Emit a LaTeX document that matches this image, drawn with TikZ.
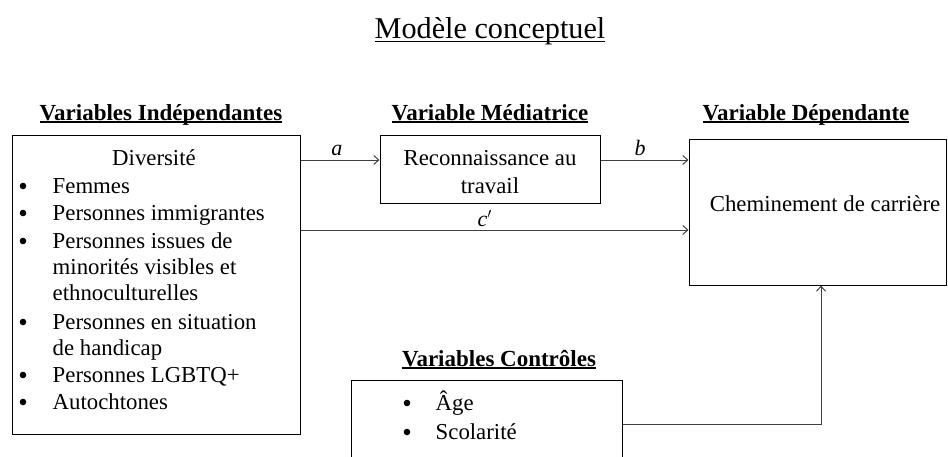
\documentclass[tikz,border=0pt]{standalone}
\usepackage{fontspec}
\setmainfont{Liberation Serif}
\usetikzlibrary{arrows.meta}
\newcommand\myul[3][2.6pt]{\setbox0\hbox{#3}\rlap{\rule[-#1]{\wd0}{#2}}\box0}
\begin{document}
\begin{tikzpicture}[x=1pt,y=-1pt,
  box/.style={draw=black,line width=1pt,inner sep=0pt},
  conn/.style={draw=black!75,line width=1pt},
  arr/.style={conn,-{Straight Barb[length=5pt,width=9pt]}},
  txt/.style={inner sep=0pt,font=\fontsize{22.8}{26}\selectfont},
  dot/.style={circle,fill=black,inner sep=0pt,minimum size=6.6pt},
  hdr/.style={inner sep=0pt,font=\fontsize{23}{26}\selectfont\bfseries},
  lbl/.style={inner sep=0pt,font=\fontsize{22}{26}\selectfont\itshape}]
\useasboundingbox (0,0) rectangle (948,456);
% title
\node[inner sep=0pt,font=\fontsize{30.2}{32}\selectfont,anchor=base] (title) at (490,38.5) {\myul[3.5pt]{1.5pt}{Modèle conceptuel}};
% headers
\node[hdr,anchor=base] (hL) at (161,120) {\myul[2.8pt]{1.4pt}{Variables Indépendantes}};
\node[hdr,anchor=base] (hM) at (490,120) {\myul[2.8pt]{1.4pt}{Variable Médiatrice}};
\node[hdr,anchor=base] (hD) at (806,120) {\myul[2.8pt]{1.4pt}{Variable Dépendante}};
\node[hdr,anchor=base] (hC) at (499,366) {\myul[2.8pt]{1.4pt}{Variables Contrôles}};
% boxes
\node[box,minimum width=288pt,minimum height=299pt] (L) at (156,284.5) {};
\node[box,minimum width=220pt,minimum height=68pt] (M) at (490,169) {};
\node[box,minimum width=257pt,minimum height=146pt] (D) at (817.5,212) {};
\node[box,minimum width=271pt,minimum height=90pt] (C) at (486.5,425) {};
% left box text
\node[txt,anchor=base] (div) at (154,165) {Diversité};
\foreach \n/\yy/\t in {b1/193/Femmes,b2/220/Personnes immigrantes,b3/248/Personnes issues de,b5/329/Personnes en situation,b7/382/Personnes LGBTQ+,b8/409/Autochtones}{
  \node[dot] (d\n) at (23,\yy-7) {};
  \node[txt,anchor=base west] (t\n) at (52.5,\yy) {\t};
}
\node[txt,anchor=base west] (tb3b) at (52.5,274) {minorités visibles et};
\node[txt,anchor=base west] (tb3c) at (52.5,300) {ethnoculturelles};
\node[txt,anchor=base west] (tb5b) at (52.5,355) {de handicap};
% mediator text
\node[txt,anchor=base] (m1) at (490,165) {Reconnaissance au};
\node[txt,anchor=base] (m2) at (490,193) {travail};
% dependent text
\node[txt,anchor=base] (dv) at (825,211) {Cheminement de carrière};
% controls text
\node[dot] (dc1) at (407,403) {};
\node[txt,anchor=base west] (c1) at (435.5,410) {Âge};
\node[dot] (dc2) at (407,432) {};
\node[txt,anchor=base west] (c2) at (435.5,439) {Scolarité};
% connectors
\coordinate (aS) at (L.east |- 0,160);
\coordinate (aE) at (M.west |- 0,160);
\coordinate (bS) at (M.east |- 0,160);
\coordinate (bE) at (D.west |- 0,160);
\coordinate (cS) at (L.east |- 0,230);
\coordinate (cE) at (D.west |- 0,230);
\draw[arr] (aS) -- node[lbl,above=4pt,pos=0.46] (la) {a} (aE);
\draw[arr] (bS) -- node[lbl,above=4pt,pos=0.45] (lb) {b} (bE);
\draw[arr] (cS) -- node[lbl,above=3pt,pos=0.475] (lc) {c$'$} (cE);
\coordinate (kS) at (C.east |- 0,424);
\coordinate (kT) at (821,424);
\draw[arr] (kS) -- (kT) -- (kT |- D.south);
\end{tikzpicture}
\end{document}
